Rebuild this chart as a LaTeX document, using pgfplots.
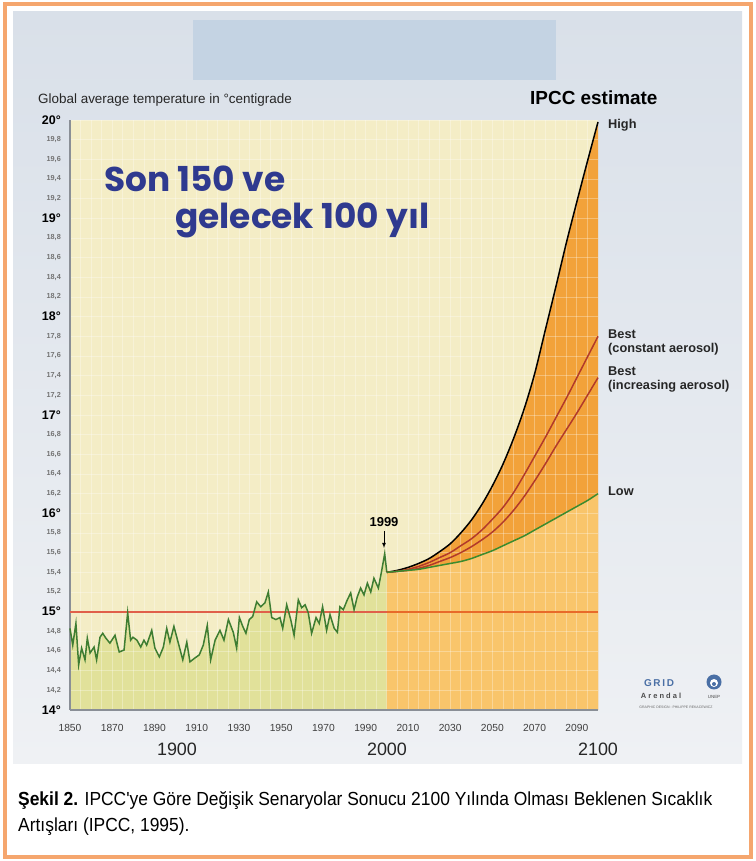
\documentclass[border=0pt]{standalone}
\usepackage{fontspec}
\setmainfont{Liberation Sans}
\newfontfamily\narrow{Liberation Sans}[FakeStretch=0.86]
\newfontfamily\capfont{Liberation Sans}[FakeStretch=0.92]
\newfontfamily\comic{Poppins}
\usepackage{pgfplots}
\usepackage{pgfplotstable}
\pgfplotsset{compat=1.18}

\definecolor{bordercol}{HTML}{F5A66E}
\definecolor{paneltop}{HTML}{D9E0E9}
\definecolor{panelbot}{HTML}{EFF1F4}
\definecolor{bluebox}{HTML}{C4D3E3}
\definecolor{paleyellow}{HTML}{F4EDC6}
\definecolor{greenfill}{HTML}{E1E19A}
\definecolor{lightorange}{HTML}{F9C56B}
\definecolor{darkorange}{HTML}{F2A23A}
\definecolor{redA}{HTML}{E0604A}
\definecolor{redB}{HTML}{E86A2A}
\definecolor{obsgreen}{HTML}{3E7D32}
\definecolor{lowgreen}{HTML}{3C8B2E}
\definecolor{bestred}{HTML}{B23A2A}
\definecolor{sontext}{HTML}{2F3A8F}
\definecolor{axisgray}{HTML}{8A8F96}
\definecolor{logoblue}{HTML}{4A6FA5}

\newcommand\mj[1]{\fontsize{12.5}{13}\selectfont\bfseries #1}
\newcommand\mn[1]{\fontsize{7.3}{8}\selectfont\bfseries\color{black!55}#1}

\pgfplotstableread{
year temp
1850 14.83
1851.3 14.66
1852.8 14.88
1854.1 14.46
1855.5 14.63
1857.1 14.51
1858.2 14.73
1859.5 14.58
1861.4 14.64
1862.6 14.51
1864.2 14.74
1865.5 14.78
1867 14.73
1868.9 14.68
1871.3 14.76
1873.3 14.59
1875.6 14.61
1877.3 14.99
1878.7 14.71
1879.8 14.74
1881.7 14.71
1883.5 14.64
1885 14.71
1886.3 14.66
1888.7 14.81
1890.2 14.63
1892.3 14.54
1894.2 14.64
1895.8 14.83
1897.3 14.69
1899.2 14.85
1901.3 14.68
1903.4 14.51
1905.3 14.69
1906.8 14.49
1909.2 14.53
1911.2 14.56
1913.1 14.66
1915 14.86
1916.6 14.51
1918.7 14.71
1921 14.81
1922.9 14.71
1925 14.92
1927.3 14.79
1928.9 14.63
1930.2 14.94
1931.8 14.85
1933.3 14.78
1934.9 14.92
1936.5 14.95
1938.4 15.10
1940.3 15.05
1942.3 15.09
1943.9 15.20
1945.5 14.94
1947.5 14.92
1949.4 14.94
1950.7 14.83
1952.6 15.07
1954.5 14.92
1956.1 14.76
1958.1 15.12
1959.7 15.04
1961.3 15.07
1962.8 14.99
1964.4 14.78
1966.5 14.94
1968 14.88
1969.6 15.05
1971.5 14.81
1973.1 14.97
1975.1 14.83
1976.6 14.79
1977.8 15.05
1979.4 15.02
1981.3 15.12
1982.9 15.19
1984.5 15.02
1986 15.15
1987.6 15.24
1989.2 15.17
1990.8 15.29
1992.4 15.20
1993.9 15.34
1996 15.24
1997.6 15.42
1999 15.59
2000 15.40
}\obs

\pgfplotstableread{
year high bestc besti low
2000 15.40 15.40 15.40 15.40
2005 15.42 15.41 15.41 15.41
2010 15.45 15.43 15.42 15.42
2015 15.49 15.46 15.44 15.43
2020 15.54 15.50 15.47 15.45
2025 15.61 15.55 15.51 15.47
2030 15.69 15.60 15.55 15.49
2035 15.80 15.67 15.60 15.51
2040 15.93 15.74 15.66 15.54
2045 16.09 15.83 15.73 15.58
2050 16.28 15.94 15.81 15.62
2055 16.50 16.06 15.91 15.67
2060 16.76 16.21 16.03 15.72
2065 17.06 16.39 16.17 15.77
2070 17.42 16.58 16.33 15.83
2075 17.86 16.77 16.50 15.89
2080 18.30 16.97 16.68 15.95
2085 18.75 17.17 16.85 16.01
2090 19.17 17.38 17.02 16.07
2095 19.58 17.59 17.20 16.13
2100 19.98 17.80 17.38 16.20
}\proj

\begin{document}
\begin{tikzpicture}[x=1bp,y=1bp]
\useasboundingbox (0,0) rectangle (756,861);
\fill[white] (0,0) rectangle (756,861);
\draw[bordercol, line width=3.5bp] (5,4) rectangle (751,857);
\shade[top color=paneltop, bottom color=panelbot] (13,97) rectangle (742,849);
\fill[bluebox] (193,781) rectangle (556,841);

% axis 1: backgrounds, fills, grid, ticks
\begin{axis}[
  at={(70bp,151bp)}, anchor=south west,
  width=528bp, height=590bp, scale only axis,
  xmin=1850, xmax=2100, ymin=14, ymax=20,
  axis x line*=bottom, axis y line*=left,
  axis line style={-, draw=axisgray, line width=1.2bp},
  axis on top,
  axis background/.style={fill=paleyellow},
  xtick={1850,1870,1890,1910,1930,1950,1970,1990,2010,2030,2050,2070,2090},
  xticklabels={1850,1870,1890,1910,1930,1950,1970,1990,2010,2030,2050,2070,2090},
  minor xtick={1855,1860,1865,1875,1880,1885,1895,1900,1905,1915,1920,1925,1935,1940,1945,1955,1960,1965,1975,1980,1985,1995,2000,2005,2015,2020,2025,2035,2040,2045,2055,2060,2065,2075,2080,2085,2095},
  ytick={14,14.2,14.4,14.6,14.8,15,15.2,15.4,15.6,15.8,16,16.2,16.4,16.6,16.8,17,17.2,17.4,17.6,17.8,18,18.2,18.4,18.6,18.8,19,19.2,19.4,19.6,19.8,20},
  yticklabels={{\mj{14°}},{\mn{14,2}},{\mn{14,4}},{\mn{14,6}},{\mn{14,8}},
               {\mj{15°}},{\mn{15,2}},{\mn{15,4}},{\mn{15,6}},{\mn{15,8}},
               {\mj{16°}},{\mn{16,2}},{\mn{16,4}},{\mn{16,6}},{\mn{16,8}},
               {\mj{17°}},{\mn{17,2}},{\mn{17,4}},{\mn{17,6}},{\mn{17,8}},
               {\mj{18°}},{\mn{18,2}},{\mn{18,4}},{\mn{18,6}},{\mn{18,8}},
               {\mj{19°}},{\mn{19,2}},{\mn{19,4}},{\mn{19,6}},{\mn{19,8}},
               {\mj{20°}}},
  major tick length=0pt, minor tick length=0pt,
  grid=both,
  major grid style={white, opacity=0.3, line width=0.8bp},
  minor grid style={white, opacity=0.3, line width=0.8bp},
  xticklabel style={font=\fontsize{10.3}{11}\selectfont, text=black!75, anchor=base, yshift=-22bp},
  yticklabel style={anchor=east, inner xsep=0pt, xshift=-9bp},
]
\addplot[draw=none, fill=greenfill] table[x=year,y=temp]{\obs} \closedcycle;
\addplot[draw=none, fill=darkorange, smooth] table[x=year,y=high]{\proj} \closedcycle;
\addplot[draw=none, fill=lightorange, smooth] table[x=year,y=low]{\proj} \closedcycle;
\end{axis}

% axis 2: lines on top of grid
\begin{axis}[
  at={(70bp,151bp)}, anchor=south west,
  width=528bp, height=590bp, scale only axis,
  xmin=1850, xmax=2100, ymin=14, ymax=20,
  hide axis, clip=false,
]
\addplot[redA, line width=1.8bp] coordinates {(1850,15) (2000,15)};
\addplot[redB, line width=1.8bp] coordinates {(2000,15) (2100,15)};
\addplot[obsgreen, line width=1.5bp] table[x=year,y=temp]{\obs};
\addplot[black, line width=1.5bp, smooth] table[x=year,y=high]{\proj};
\addplot[bestred, line width=1.5bp, smooth] table[x=year,y=bestc]{\proj};
\addplot[bestred, line width=1.5bp, smooth] table[x=year,y=besti]{\proj};
\addplot[lowgreen, line width=1.5bp, smooth] table[x=year,y=low]{\proj};
\end{axis}

% texts
\node[anchor=base west, inner sep=0, font=\fontsize{13.5}{14}\selectfont, text=black!85] at (38,757) {Global average temperature in °centigrade};
\node[anchor=base west, inner sep=0, font=\fontsize{19}{20}\selectfont\bfseries] at (530,756) {IPCC estimate};
\node[anchor=base west, inner sep=0, font=\comic\fontsize{34.5}{36}\selectfont\bfseries, text=sontext] at (104,669) {Son 150 ve};
\node[anchor=base west, inner sep=0, font=\comic\fontsize{34.5}{36}\selectfont\bfseries, text=sontext] at (175,632) {gelecek 100 yıl};

\begin{scope}[every node/.style={anchor=base west, inner sep=0, font=\fontsize{12.8}{13}\selectfont\bfseries, text=black!85}]
\node at (608,732) {High};
\node at (608,522) {Best};
\node at (608,508) {(constant aerosol)};
\node at (608,485) {Best};
\node at (608,471) {(increasing aerosol)};
\node at (608,365) {Low};
\end{scope}

\node[anchor=base, inner sep=0, font=\fontsize{13}{13}\selectfont\bfseries] at (384,334) {1999};
\draw[-latex, line width=0.8bp] (384,330) -- (384,313);

\begin{scope}[every node/.style={anchor=base, inner sep=0, font=\fontsize{18}{18}\selectfont, text=black!85}]
\node at (177,105) {1900};
\node at (387,105) {2000};
\node at (598,105) {2100};
\end{scope}

% logo
\node[anchor=base, inner sep=0, font=\fontsize{10}{10}\selectfont\bfseries, text=logoblue] at (659,174) {G\,R\,I\,D};
\node[anchor=base, inner sep=0, font=\fontsize{7.5}{8}\selectfont\bfseries, text=black!70] at (661,162) {A r e n d a l};
\fill[logoblue] (714,179) circle (7.5);
\fill[white] (714,178) circle (4);
\fill[logoblue] (714,177) circle (2);
\node[anchor=base, inner sep=0, font=\fontsize{4.5}{5}\selectfont, text=black!70] at (714,162) {UNEP};
\node[anchor=base, inner sep=0, font=\fontsize{3.5}{4}\selectfont, text=black!60] at (676,152) {GRAPHIC DESIGN : PHILIPPE REKACEWICZ};

% caption
\node[anchor=base west, inner sep=0, font=\capfont\fontsize{19}{22}\selectfont] at (18,55) {\textbf{Şekil 2.} IPCC'ye Göre Değişik Senaryolar Sonucu 2100 Yılında Olması Beklenen Sıcaklık};
\node[anchor=base west, inner sep=0, font=\capfont\fontsize{19}{22}\selectfont] at (18,29) {Artışları (IPCC, 1995).};
\end{tikzpicture}
\end{document}
